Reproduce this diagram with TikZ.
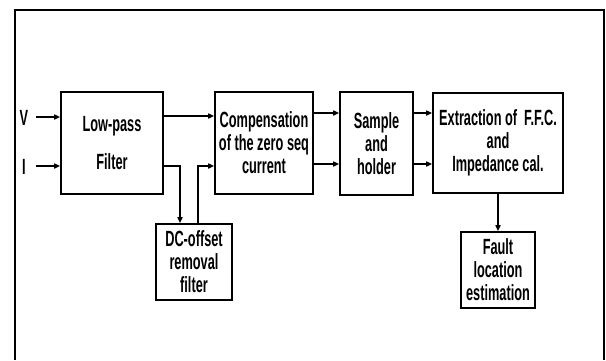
\documentclass[tikz,border=0pt]{standalone}
\usepackage{fontspec}
\newfontfamily\nb{Liberation Sans}[BoldFont={Liberation Sans Bold}, FakeStretch=0.58]
\usetikzlibrary{arrows.meta,calc}
\begin{document}
\begin{tikzpicture}[x=1pt,y=-1pt,
  blk/.style={draw,line width=1.6pt,inner sep=1pt,align=center,
    font=\nb\bfseries\fontsize{22}{23}\selectfont},
  lbl/.style={inner sep=0pt,font=\nb\bfseries\fontsize{22}{23}\selectfont},
  conn/.style={line width=1.6pt,-{Triangle[length=6pt,width=5pt]}}]
\useasboundingbox (0,0) rectangle (606,360);
\draw[line width=1.6pt] (15,360) -- (15,10) -- (604,10) -- (604,360);
\node[blk,minimum width=102,minimum height=102] (lpf) at (112,143) {Low-pass\\[15pt]Filter};
\node[blk,minimum width=98,minimum height=102] (comp) at (264,143) {Compensation\\of the zero seq\\current};
\node[blk,minimum width=73,minimum height=103] (sh) at (376.5,143.5) {Sample\\and\\holder};
\node[blk,minimum width=130,minimum height=100] (ext) at (498,143) {Extraction of~ F.F.C.\\and\\Impedance cal.};
\node[blk,minimum width=76,minimum height=76] (dc) at (194,262) {DC-offset\\removal\\filter};
\node[blk,minimum width=74,minimum height=76] (fault) at (498,270) {Fault\\location\\estimation};
\node[lbl] (v) at (24,118) {V};
\node[lbl] (i) at (24,167) {I};
\coordinate (vin) at (36,117);
\coordinate (iin) at (36,166);
\draw[conn] (vin) -- (vin -| lpf.west);
\draw[conn] (iin) -- (iin -| lpf.west);
\coordinate (l1) at (0,116);
\coordinate (l2) at (0,166);
\draw[conn] (l1 -| lpf.east) -- (l1 -| comp.west);
\coordinate (dn) at ($(dc.north)+(-14,0)$);
\coordinate (up) at ($(dc.north)+(4,0)$);
\draw[conn] (l2 -| lpf.east) -| (dn);
\draw[conn] (up) |- (l2 -| comp.west);
\coordinate (s1) at (0,113);
\coordinate (s2) at (0,164);
\draw[conn] (s1 -| comp.east) -- (s1 -| sh.west);
\draw[conn] (s2 -| comp.east) -- (s2 -| sh.west);
\draw[conn] (s1 -| sh.east) -- (s1 -| ext.west);
\draw[conn] (s2 -| sh.east) -- (s2 -| ext.west);
\draw[conn] (ext.south) -- (fault.north);
\end{tikzpicture}
\end{document}
